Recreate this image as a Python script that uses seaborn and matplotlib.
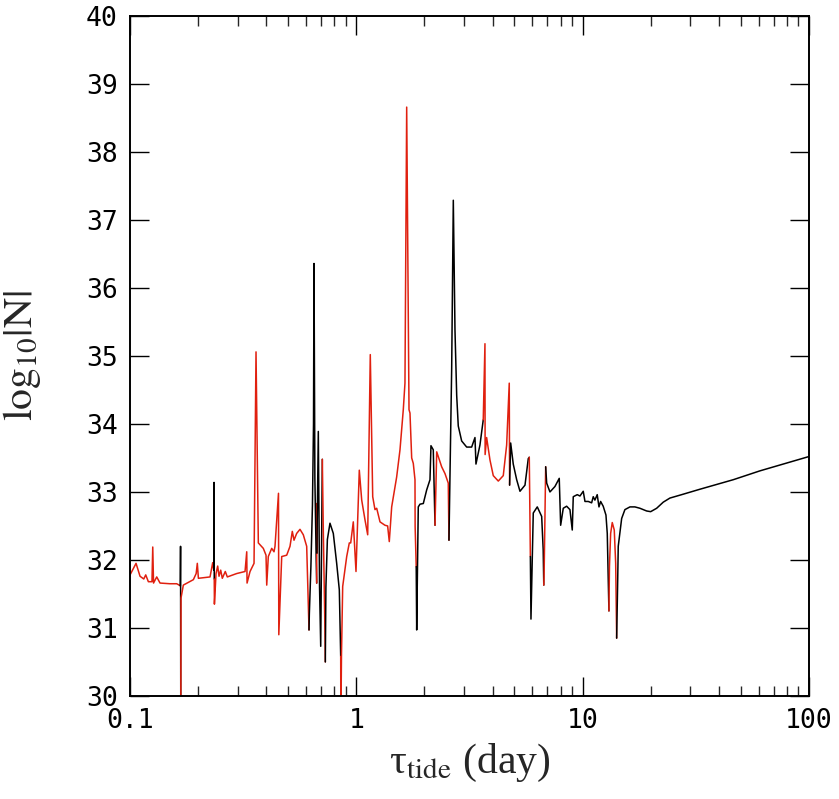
import matplotlib
matplotlib.use('Agg')
import matplotlib.pyplot as plt
import seaborn as sns
from matplotlib.ticker import FixedLocator, NullFormatter, LogLocator

# tidal period (day), log10 of |N|, and sign branch (1 = red, 0 = black)
tau_day = [
    0.100, 0.1063, 0.1107, 0.1150, 0.1173, 0.1205, 0.1250, 0.1260, 0.1270, 0.1312,
    0.1357, 0.1500, 0.1608, 0.1668,
    0.1672, 0.1676,
    0.1680, 0.1720, 0.1905, 0.1960, 0.1983, 0.2005, 0.2257, 0.2319, 0.2345,
    0.2352, 0.2356,
    0.2360, 0.2399, 0.2440, 0.2473, 0.2516, 0.2557, 0.2636, 0.2691, 0.2961, 0.3223,
    0.3279, 0.3290, 0.3391, 0.3532, 0.3604, 0.3690, 0.3882, 0.3990, 0.4019, 0.4084,
    0.4228, 0.4328, 0.4372, 0.4530, 0.4545, 0.4681, 0.4925, 0.5093, 0.5214, 0.5305,
    0.5451, 0.5638, 0.5832, 0.6036, 0.6180,
    0.6200, 0.6300, 0.6400, 0.6470, 0.6503, 0.6560, 0.6650, 0.6683,
    0.6688, 0.6692,
    0.6794, 0.6880, 0.6962, 0.7077,
    0.7150, 0.7250, 0.7296,
    0.7340, 0.7450, 0.7650, 0.7914, 0.8190, 0.8413, 0.8533,
    0.8545, 0.8600, 0.8707, 0.9070, 0.9313, 0.9447, 0.9699, 0.9970, 1.031, 1.0566,
    1.0925, 1.123, 1.153, 1.1818, 1.2094, 1.2308, 1.2728, 1.339, 1.3758, 1.399,
    1.4335, 1.508, 1.560, 1.6133, 1.641, 1.670, 1.710, 1.727, 1.7571, 1.7861,
    1.8172, 1.820, 1.840,
    1.849, 1.879, 1.912, 1.978, 2.047, 2.117, 2.138, 2.189, 2.228,
    2.267, 2.384, 2.466, 2.550, 2.568,
    2.640, 2.684, 2.730, 2.778, 2.823, 2.922, 3.075, 3.235, 3.346, 3.380,
    3.520, 3.640,
    3.704, 3.710, 3.768, 3.898, 4.031, 4.242, 4.463, 4.619, 4.743, 4.760,
    4.812, 4.940, 5.115, 5.290, 5.567, 5.756, 5.815,
    5.880,
    5.916, 6.056, 6.308, 6.597, 6.700, 6.740,
    6.760, 6.871,
    6.942, 7.178, 7.551, 7.889, 8.003, 8.218, 8.505, 8.796, 9.006, 9.098,
    9.476, 9.739, 10.07, 10.25, 10.60, 10.97, 11.15, 11.34, 11.61, 11.82,
    12.02, 12.34, 12.69, 12.86, 13.08,
    13.15, 13.31, 13.53, 13.81, 14.01, 14.15,
    14.30, 14.38, 14.89, 15.39, 16.20, 17.04, 17.93, 19.20, 20.00, 21.26,
    22.74, 24.33, 27.41, 33.03, 46.36, 60.80, 100.0,
]
log10_n = [
    31.78, 31.95, 31.76, 31.72, 31.78, 31.68, 31.68, 32.19, 31.66, 31.75,
    31.66, 31.65, 31.65, 31.62,
    32.20, 29.50,
    31.44, 31.63, 31.71, 31.80, 31.95, 31.73, 31.75, 31.96, 31.85,
    33.14, 31.72,
    31.35, 31.80, 31.91, 31.76, 31.85, 31.73, 31.83, 31.75, 31.80, 31.83,
    32.12, 31.66, 31.83, 31.95, 35.06, 32.25, 32.17, 32.07, 31.63, 32.05,
    32.17, 32.12, 32.20, 32.98, 30.90, 32.05, 32.07, 32.20, 32.42, 32.29,
    32.39, 32.45, 32.37, 32.20, 30.97,
    31.20, 31.90, 32.80, 34.00, 36.36, 33.20, 32.00, 31.66,
    32.83, 32.10,
    33.89, 31.60, 30.73, 33.48,
    32.40, 31.20, 30.50,
    31.60, 32.30, 32.54, 32.39, 31.95, 31.56, 30.58,
    29.50, 30.60, 31.61, 32.05, 32.25, 32.25, 32.56, 31.83, 33.32, 32.88,
    32.59, 32.37, 35.02, 32.93, 32.74, 32.76, 32.56, 32.51, 32.50, 32.27,
    32.78, 33.22, 33.62, 34.21, 34.60, 38.66, 34.21, 34.16, 33.50, 33.42,
    33.18, 32.49, 31.90,
    30.97, 32.78, 32.82, 32.83, 33.03, 33.18, 33.68, 33.62, 32.51,
    33.59, 33.37, 33.27, 33.13, 32.29,
    34.82, 37.29, 35.38, 34.42, 33.97, 33.75, 33.66, 33.66, 33.80, 33.41,
    33.69, 34.06,
    35.18, 33.55, 33.80, 33.47, 33.24, 33.16, 33.24, 33.69, 34.60, 33.10,
    33.72, 33.41, 33.18, 33.01, 33.10, 33.49, 33.51,
    32.05,
    31.13, 32.69, 32.78, 32.64, 32.15, 31.63,
    31.75, 33.37,
    33.13, 33.00, 33.08, 33.20, 32.51, 32.76, 32.79, 32.74, 32.44, 32.93,
    32.96, 32.94, 33.01, 32.86, 32.86, 32.84, 32.93, 32.88, 32.96, 32.78,
    32.86, 32.79, 32.66, 32.39, 31.25,
    31.90, 32.39, 32.55, 32.44, 31.95, 30.85,
    31.70, 32.20, 32.61, 32.74, 32.78, 32.78, 32.76, 32.72, 32.71, 32.76,
    32.85, 32.91, 32.96, 33.04, 33.18, 33.31, 33.52,
]
branch = (
    [1] * 14 + [0] * 2 + [1] * 9 + [0] * 2 + [1] * 35 + [0] * 8 + [1] * 2
    + [0] * 4 + [1] * 3 + [0] * 7 + [1] * 33 + [0] * 9 + [1] * 5 + [0] * 12
    + [1] * 10 + [0] * 7 + [1] * 1 + [0] * 6 + [1] * 2 + [0] * 25 + [1] * 6
    + [0] * 17
)

x_ticks = [0.1, 1, 10, 100]
x_tick_labels = ['0.1', '1', '10', '100']
y_ticks = [30, 31, 32, 33, 34, 35, 36, 37, 38, 39, 40]

sns.set_style('ticks')
plt.rcParams['mathtext.fontset'] = 'stix'

fig = plt.figure(figsize=(8.39, 7.99), dpi=100)
ax = fig.add_axes([0.155, 0.129, 0.809, 0.851])

colors = {1: '#e0200f', 0: '#000000'}
runs = []
start = 0
for i in range(1, len(branch)):
    if branch[i] != branch[i - 1]:
        runs.append((start, i))
        start = i
runs.append((start, len(branch)))

for s, e in runs:
    lo = max(s - 1, 0)
    sns.lineplot(x=tau_day[lo:e], y=log10_n[lo:e], color=colors[branch[s]],
                 sort=False, estimator=None, lw=1.1, ax=ax)

ax.set_xscale('log')
ax.set_xlim(0.1, 100)
ax.set_ylim(30, 40)
ax.xaxis.set_major_locator(FixedLocator(x_ticks))
ax.set_xticklabels(x_tick_labels)
ax.xaxis.set_minor_locator(LogLocator(base=10, subs=range(2, 10)))
ax.xaxis.set_minor_formatter(NullFormatter())
ax.set_yticks(y_ticks)

for side in ['left', 'right', 'top', 'bottom']:
    ax.spines[side].set_linewidth(1.4)
    ax.spines[side].set_color('black')

ax.tick_params(which='major', direction='in', length=14, width=1.0,
               top=True, right=True, pad=9, labelsize=19, colors='black')
ax.tick_params(which='minor', direction='in', length=7, width=1.0,
               top=True, right=True)
for lab in ax.get_xticklabels() + ax.get_yticklabels():
    lab.set_family('DejaVu Sans Mono')

ax.set_xlabel('τ$_{\\rm tide}$ (day)', fontsize=30, family='Liberation Serif')
ax.set_ylabel(r'${\rm log}_{10}|{\rm N}|$', fontsize=30)
ax.xaxis.set_label_coords(0.5, -0.068)
ax.yaxis.set_label_coords(-0.128, 0.5)
ax.xaxis.label.set_va('top')

fig.savefig('out.png', dpi=100)
